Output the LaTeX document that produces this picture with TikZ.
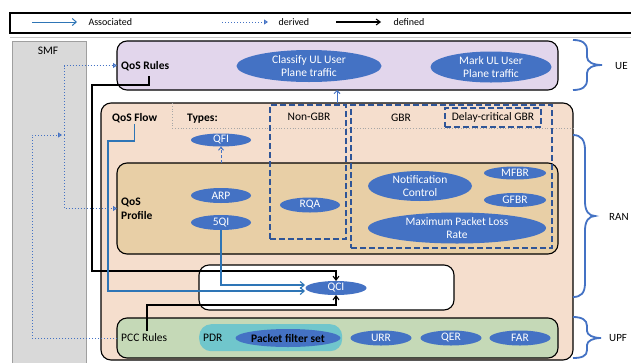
\documentclass[tikz,border=0pt]{standalone}
\usepackage{fontspec}
\setmainfont{Carlito}
\usetikzlibrary{shapes.geometric,arrows.meta}
\definecolor{purp}{RGB}{226,214,236}
\definecolor{peach}{RGB}{245,222,205}
\definecolor{tan}{RGB}{232,207,166}
\definecolor{green}{RGB}{197,217,183}
\definecolor{teal}{RGB}{112,198,204}
\definecolor{ellblue}{RGB}{68,114,196}
\definecolor{lineblue}{RGB}{46,117,182}
\definecolor{dashblue}{RGB}{47,85,151}
\definecolor{smfgray}{RGB}{217,217,217}
\begin{document}
\begin{tikzpicture}[x=1pt,y=-1pt,
  fs/.style={font=\fontsize{11.5}{13.5}\selectfont},
  fsb/.style={font=\fontsize{11.5}{14}\selectfont\bfseries},
  cont/.style={draw=black, line width=1.1pt, rounded corners=10pt, anchor=north west, inner sep=0pt, outer sep=0pt},
  dbox/.style={draw=dashblue, line width=1.4pt, dash pattern=on 6pt off 3pt, anchor=north west, inner sep=0pt, outer sep=0pt},
  ell/.style={ellipse, fill=ellblue, inner sep=0pt, outer sep=0pt},
  lbl/.style={text=white, fs, align=center, inner sep=0pt},
  txt/.style={fs, inner sep=1pt},
  assoc/.style={draw=lineblue, line width=1.1pt, -{Straight Barb[length=4pt,width=7pt]}},
  der/.style={draw=ellblue, line width=1pt, dotted, -{Triangle[open,length=4pt,width=5pt]}},
  dd/.style={draw=ellblue, line width=1pt, dash pattern=on 3pt off 2pt, -{Straight Barb[length=3pt,width=5pt]}},
  defl/.style={draw=black, line width=1.1pt, -{Straight Barb[length=4pt,width=6pt]}},
  brc/.style={draw=ellblue, line width=1.8pt}]
\useasboundingbox (0,0) rectangle (631,362);
\fill[white] (0,0) rectangle (631,362);
% legend
\node[draw=black, line width=1.8pt, anchor=north west, minimum width=640pt, minimum height=20pt, inner sep=0pt] (legend) at (9,12) {};
\coordinate (la1) at (32,22); \coordinate (la2) at (77,22);
\coordinate (lb1) at (222,22); \coordinate (lb2) at (268,22);
\coordinate (lc1) at (336,22); \coordinate (lc2) at (381,22);
\draw[assoc, line width=1pt] (la1) -- (la2);
\draw[der] (lb1) -- (lb2);
\draw[defl] (lc1) -- (lc2);
\node[font=\fontsize{10}{12}\selectfont, anchor=west] (lta) at (85,22) {Associated};
\node[font=\fontsize{10}{12}\selectfont, anchor=west] (ltb) at (275,22) {derived};
\node[font=\fontsize{10}{12}\selectfont, anchor=west] (ltc) at (390,22) {defined};
\draw[gray!45, line width=0.8pt] (10,37) -- (631,37);
% SMF
\node[fill=smfgray, draw=gray!75, line width=0.8pt, anchor=north west, minimum width=74pt, minimum height=330pt, inner sep=0pt] (smf) at (12,41) {};
\node[txt] (smflab) at (48,51) {SMF};
% containers
\node[cont, fill=purp, minimum width=441pt, minimum height=49pt] (qosrules) at (117,41) {};
\node[cont, fill=peach, minimum width=472pt, minimum height=257pt] (flowbox) at (101,103) {};
\draw[gray!70, line width=0.8pt, dotted] (172,103) -- (172,128) -- (573,128);
\node[cont, fill=tan, minimum width=441pt, minimum height=91pt] (profile) at (117,163) {};
\node[cont, fill=white, minimum width=255pt, minimum height=45pt] (qcibox) at (199,265) {};
\node[cont, fill=green, minimum width=441pt, minimum height=40pt] (pcc) at (117,318) {};
\node[fill=teal, rounded corners=12pt, anchor=north west, minimum width=143pt, minimum height=27pt, inner sep=0pt] (pdr) at (199,324) {};
% dashed boxes
\node[dbox, minimum width=76pt, minimum height=134pt] (nongbr) at (270,105) {};
\node[dbox, minimum width=201pt, minimum height=143pt] (gbr) at (351,105) {};
\node[dbox, minimum width=96pt, minimum height=19pt] (dcgbr) at (445,108) {};
% labels
\node[fsb, anchor=west, inner sep=1pt] (qrlab) at (120,66) {QoS Rules};
\node[fsb, anchor=west, inner sep=1pt] (flowlab) at (111,118) {QoS Flow};
\node[fsb, anchor=west, inner sep=1pt] (types) at (186,119) {Types:};
\node[txt] (nongbrlab) at (309,117) {Non-GBR};
\node[txt] (gbrlab) at (401,118) {GBR};
\node[txt] (dclab) at (493,117) {Delay-critical GBR};
\node[fsb, anchor=west, align=left, inner sep=1pt] (proflab) at (120,209) {QoS\\Profile};
\node[txt, anchor=west] (pcclab) at (120,338) {PCC Rules};
\node[txt, anchor=west] (pdrlab) at (202,338) {PDR};
% ellipses
\node[ell, minimum width=145pt, minimum height=32pt, label={[lbl]center:Classify UL User\\Plane traffic}] (classify) at (309,66) {};
\node[ell, minimum width=121pt, minimum height=31pt, label={[lbl]center:Mark UL User\\Plane traffic}] (mark) at (491,67) {};
\node[ell, minimum width=60pt, minimum height=13pt, label={[lbl]center:QFI}] (qfi) at (221,140) {};
\node[ell, minimum width=60pt, minimum height=15pt, label={[lbl]center:ARP}] (arp) at (221,195.5) {};
\node[ell, minimum width=60pt, minimum height=15pt, label={[lbl]center:5QI}] (fqi) at (221,222.5) {};
\node[ell, minimum width=60pt, minimum height=15pt, label={[lbl]center:RQA}] (rqa) at (310,205) {};
\node[ell, minimum width=104pt, minimum height=30pt, label={[lbl]center:Notification\\Control}] (notif) at (420,186) {};
\node[ell, minimum width=62pt, minimum height=13pt, label={[lbl]center:MFBR}] (mfbr) at (515,173) {};
\node[ell, minimum width=62pt, minimum height=14pt, label={[lbl]center:GFBR}] (gfbr) at (515,200) {};
\node[ell, minimum width=178pt, minimum height=31pt, label={[lbl]center:Maximum Packet Loss\\Rate}] (mplr) at (457,228) {};
\node[ell, minimum width=61pt, minimum height=14pt, label={[lbl]center:QCI}] (qci) at (336,288) {};
\node[ell, minimum width=105pt, minimum height=18pt, label={[lbl, text=black, fsb]center:Packet filter set}] (pfs) at (288,338) {};
\node[ell, minimum width=61pt, minimum height=15pt, label={[lbl]center:URR}] (urr) at (381,338) {};
\node[ell, minimum width=61pt, minimum height=15pt, label={[lbl]center:QER}] (qer) at (451,338) {};
\node[ell, minimum width=61pt, minimum height=15pt, label={[lbl]center:FAR}] (far) at (520,338) {};
% connectors: defined
\coordinate (d0) at (149,76);
\coordinate (d1) at (92,85);
\coordinate (d2) at (92,271);
\coordinate (d3) at (336,305);
\coordinate (d4) at (147,331);
\draw[defl] (d0) |- (d1) -- (d2) -| (qci.north);
\draw[defl] (d4) |- (d3) -- (qci.south);
% associated
\coordinate (qa) at (305,285);
\coordinate (qb) at (305,291);
\coordinate (b2) at (108,141);
\draw[assoc] (fqi.south) |- (qa);
\draw[assoc] (flowlab.south) |- (b2) |- (qb);
\coordinate (u) at (337,0);
\draw[draw=ellblue, line width=1pt, -{Straight Barb[length=3pt,width=6pt]}] (flowbox.north -| u) -- (qosrules.south -| u);
\draw[dd] (profile.north -| qfi.south) -- (qfi.south);
% derived
\coordinate (sj) at (64,135);
\coordinate (sl) at (32,135);
\coordinate (sj2) at (62,135);
\draw[der] (sj) |- (qosrules.west);
\draw[der] (sj) |- (profile.west);
\draw[der] (pcc.west) -| (sl) -- (sj2);
% braces
\draw[brc] (573,40) .. controls (582,40) and (587,43) .. (587,50) -- (587,57) .. controls (587,62) and (593,65) .. (602,65) .. controls (593,65) and (587,68) .. (587,73) -- (587,80) .. controls (587,87) and (582,90) .. (573,90);
\draw[brc] (573,135) .. controls (581,135) and (585,140) .. (585,150) -- (585,202) .. controls (585,211) and (589,216) .. (595,216) .. controls (589,216) and (585,221) .. (585,230) -- (585,283) .. controls (585,293) and (581,297) .. (573,297);
\draw[brc] (573,317) .. controls (582,317) and (587,320) .. (587,326) -- (587,331) .. controls (587,335) and (593,338) .. (601,338) .. controls (593,338) and (587,341) .. (587,345) -- (587,350) .. controls (587,356) and (582,358) .. (573,358);
\node[font=\fontsize{11}{13}\selectfont, inner sep=0pt, anchor=west] (ue) at (615,66) {UE};
\node[font=\fontsize{11}{13}\selectfont, inner sep=0pt, anchor=west] (ran) at (609,217) {RAN};
\node[font=\fontsize{11}{13}\selectfont, inner sep=0pt, anchor=west] (upf) at (609,338) {UPF};
\end{tikzpicture}
\end{document}
